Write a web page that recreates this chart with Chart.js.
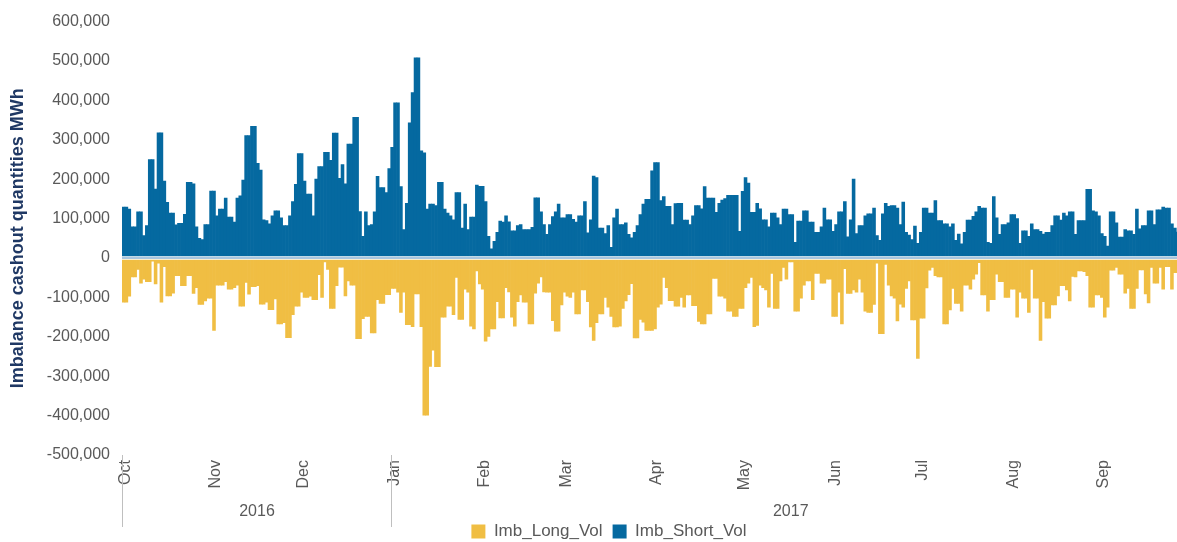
<!DOCTYPE html>
<html>
<head>
<meta charset="utf-8">
<title>Imbalance cashout quantities</title>
<script src="https://cdn.jsdelivr.net/npm/chart.js@4.4.1/dist/chart.umd.min.js"></script>
<style>
    html, body { margin: 0; padding: 0; background: #ffffff; overflow: hidden; }
    #wrap { width: 1218px; height: 550px; }
</style>
</head>
<body>
<div id="wrap"><canvas id="imbalanceChart" width="1218" height="550"></canvas></div>
<script>
// Meses del eje X (oct 2016 - sep 2017) y días de cada mes
const months = ['Oct', 'Nov', 'Dec', 'Jan', 'Feb', 'Mar', 'Apr', 'May', 'Jun', 'Jul', 'Aug', 'Sep'];
const monthDays = [31, 30, 31, 31, 28, 31, 30, 31, 30, 31, 31, 30];
// Años del segundo nivel del eje y el mes en el que empieza cada uno
const years = ['2016', '2017'];
const yearFirstMonth = [0, 3];

// Imb_Long_Vol en miles de MWh, un mes por línea
const longVol = [
    -112, -112, -97, -48, -48, -29, -64, -54, -60, -60, -8, -66, -13, -112, -22, -96, -96, -89, -45, -45, -70, -70, -45, -45, -90, -75, -118, -118, -109, -102, -102,
    -184, -69, -69, -69, -60, -79, -79, -75, -69, -122, -122, -62, -92, -73, -73, -70, -117, -117, -112, -131, -131, -104, -167, -167, -164, -202, -202, -144, -122, -122,
    -87, -100, -100, -97, -106, -106, -42, -100, -10, -29, -128, -128, -70, -23, -23, -96, -58, -69, -69, -205, -205, -154, -148, -148, -190, -190, -106, -115, -115, -93, -93,
    -77, -77, -87, -138, -87, -169, -169, -174, -91, -91, -174, -399, -399, -275, -234, -276, -276, -150, -150, -122, -122, -144, -49, -156, -156, -79, -87, -173, -180, -33, -66,
    -79, -211, -199, -180, -180, -111, -152, -152, -75, -86, -150, -173, -111, -94, -112, -112, -167, -167, -89, -64, -48, -86, -87, -87, -159, -186, -186, -119,
    -87, -97, -100, -87, -142, -142, -81, -81, -111, -175, -209, -164, -142, -142, -100, -125, -148, -175, -175, -173, -128, -109, -93, -65, -203, -203, -156, -163, -184, -184, -184,
    -180, -125, -117, -49, -75, -108, -108, -122, -122, -100, -125, -94, -94, -121, -121, -161, -167, -167, -142, -142, -52, -52, -97, -97, -102, -135, -135, -148, -148, -128,
    -128, -75, -64, -49, -174, -171, -69, -75, -81, -125, -39, -128, -128, -58, -24, -54, -10, -10, -135, -135, -102, -69, -58, -58, -106, -39, -39, -64, -64, -54, -54,
    -148, -148, -87, -167, -27, -90, -90, -81, -87, -54, -87, -135, -138, -138, -118, -13, -192, -192, -16, -69, -96, -102, -160, -117, -125, -77, -58, -157, -157, -255,
    -153, -153, -76, -31, -24, -45, -48, -48, -167, -167, -132, -77, -115, -115, -135, -69, -69, -79, -54, -41, -12, -94, -94, -135, -106, -106, -41, -60, -60, -100, -100,
    -79, -79, -150, -87, -102, -102, -138, -29, -102, -102, -209, -111, -153, -153, -119, -119, -96, -70, -70, -81, -109, -47, -48, -33, -33, -35, -45, -125, -125, -94, -94,
    -100, -150, -125, -31, -31, -24, -41, -41, -89, -77, -128, -128, -77, -30, -30, -91, -114, -24, -64, -64, -24, -79, -22, -22, -79, -37, -37, -54, -70, -70
];

// Imb_Short_Vol en miles de MWh, un mes por línea
const shortVol = [
    129, 129, 124, 79, 79, 117, 117, 57, 82, 250, 250, 175, 318, 318, 195, 141, 114, 114, 84, 88, 88, 111, 192, 192, 188, 79, 50, 47, 85, 85, 170,
    170, 107, 124, 124, 152, 104, 104, 91, 152, 158, 198, 311, 311, 334, 334, 240, 223, 97, 95, 87, 107, 120, 120, 102, 82, 82, 107, 143, 187, 265,
    265, 195, 162, 162, 107, 200, 232, 232, 268, 268, 248, 317, 317, 202, 237, 188, 289, 289, 357, 357, 118, 55, 117, 82, 85, 117, 207, 179, 179, 166, 227,
    281, 394, 394, 181, 72, 139, 343, 420, 508, 508, 272, 267, 124, 137, 137, 133, 192, 192, 124, 114, 107, 97, 166, 166, 76, 137, 72, 104, 104, 185, 182,
    182, 143, 55, 23, 42, 65, 94, 91, 107, 92, 69, 69, 82, 85, 72, 72, 72, 78, 153, 153, 117, 85, 60, 85, 105, 117, 137, 102,
    102, 110, 110, 98, 91, 107, 107, 143, 64, 97, 208, 204, 76, 76, 62, 82, 27, 102, 124, 85, 85, 89, 60, 51, 65, 82, 110, 137, 149, 149, 221,
    242, 242, 146, 156, 131, 131, 85, 138, 139, 139, 96, 96, 85, 107, 133, 133, 125, 181, 152, 152, 152, 116, 139, 147, 151, 159, 159, 159, 159, 68,
    169, 204, 190, 116, 116, 139, 125, 97, 97, 79, 114, 114, 102, 85, 124, 124, 110, 110, 40, 94, 94, 120, 120, 91, 91, 65, 65, 79, 127, 97, 97,
    68, 85, 117, 117, 143, 54, 97, 200, 62, 82, 82, 107, 112, 112, 127, 57, 45, 112, 139, 131, 133, 133, 127, 85, 142, 65, 58, 47, 81, 37,
    65, 127, 127, 114, 114, 146, 95, 95, 87, 87, 79, 87, 45, 61, 36, 65, 96, 96, 106, 117, 131, 127, 127, 40, 37, 156, 102, 60, 85, 85, 89,
    110, 110, 100, 37, 69, 69, 55, 87, 72, 72, 68, 61, 65, 65, 82, 107, 107, 96, 114, 107, 117, 117, 60, 95, 95, 95, 174, 174, 120, 117, 107,
    62, 55, 30, 117, 117, 89, 53, 53, 72, 69, 69, 60, 124, 74, 82, 82, 120, 120, 85, 122, 122, 129, 127, 127, 87, 76, 66, 72, 70, 68
];

const fontFamily = "'Liberation Sans', Arial, sans-serif";
const textColor = '#595959';

// Una etiqueta por día ("Oct 1", "Oct 2", ...)
const dayLabels = [];
months.forEach(function(m, i) {
    for (let d = 1; d <= monthDays[i]; d++) {
        dayLabels.push(m + ' ' + d);
    }
});

// Dibuja la línea del cero y el segundo nivel del eje (años)
const yearAxisPlugin = {
    id: 'yearAxis',
    afterLayout(chart) {
        // La leyenda va centrada en el área completa, no solo hasta el borde del gráfico
        if (chart.legend) {
            chart.legend.left += 15;
            chart.legend.right += 15;
        }
    },
    afterDatasetsDraw(chart) {
        const ctx = chart.ctx;
        const area = chart.chartArea;
        const y0 = Math.round(chart.scales.y.getPixelForValue(0));
        ctx.save();
        ctx.strokeStyle = '#ffffff';
        ctx.lineWidth = 3.5;
        ctx.beginPath();
        ctx.moveTo(area.left, y0);
        ctx.lineTo(area.right, y0);
        ctx.stroke();
        ctx.strokeStyle = '#8DB3D5';
        ctx.lineWidth = 1.5;
        ctx.beginPath();
        ctx.moveTo(area.left, y0);
        ctx.lineTo(area.right, y0);
        ctx.stroke();
        ctx.restore();
    },
    afterDraw(chart) {
        const ctx = chart.ctx;
        const area = chart.chartArea;
        const x = chart.scales.x;
        const half = (x.getPixelForValue(1) - x.getPixelForValue(0)) / 2;

        // Píxel donde empieza cada año
        const starts = yearFirstMonth.map(function(mi) {
            let day = 0;
            for (let k = 0; k < mi; k++) day += monthDays[k];
            return Math.round(x.getPixelForValue(day) - half) + 0.5;
        });

        ctx.save();
        ctx.strokeStyle = '#BFBFBF';
        ctx.lineWidth = 1;
        ctx.fillStyle = textColor;
        ctx.font = '16px ' + fontFamily;
        ctx.textAlign = 'center';
        ctx.textBaseline = 'middle';
        starts.forEach(function(sx, i) {
            ctx.beginPath();
            ctx.moveTo(sx, area.bottom);
            ctx.lineTo(sx, area.bottom + 72);
            ctx.stroke();
            const ex = i + 1 < starts.length ? starts[i + 1] : area.right + 2;
            ctx.fillText(years[i], (sx + ex) / 2, area.bottom + 57);
        });
        ctx.restore();
    }
};

const config = {
    type: 'bar',
    data: {
        labels: dayLabels,
        datasets: [{
            label: 'Imb_Long_Vol',
            data: longVol.map(v => v * 1000),
            backgroundColor: '#F0BE43',
            borderWidth: 0,
            barPercentage: 1,
            categoryPercentage: 1,
        }, {
            label: 'Imb_Short_Vol',
            data: shortVol.map(v => v * 1000),
            backgroundColor: '#0569A0',
            borderWidth: 0,
            barPercentage: 1,
            categoryPercentage: 1,
        }],
    },
    options: {
        responsive: false,
        animation: false,
        devicePixelRatio: 1,
        layout: {
            padding: { top: 18, right: 30, bottom: 0, left: 0 },
        },
        plugins: {
            legend: {
                position: 'bottom',
                labels: {
                    boxWidth: 14,
                    boxHeight: 14,
                    padding: 10,
                    color: textColor,
                    font: { size: 17, family: fontFamily },
                },
            },
            tooltip: { enabled: false },
        },
        scales: {
            x: {
                stacked: true,
                grid: { display: false, drawTicks: false },
                border: { display: false },
                ticks: {
                    autoSkip: false,
                    minRotation: 90,
                    maxRotation: 90,
                    padding: 5,
                    labelOffset: 2,
                    color: textColor,
                    font: { size: 16, family: fontFamily },
                    // Solo el primer día de cada mes lleva etiqueta
                    callback: function(value) {
                        const lab = this.getLabelForValue(value);
                        return lab.endsWith(' 1') ? lab.split(' ')[0] : '';
                    },
                },
                afterFit: function(scale) {
                    scale.height = 58;
                },
            },
            y: {
                stacked: true,
                min: -500000,
                max: 600000,
                grid: { display: false, drawTicks: false },
                border: { display: false },
                ticks: {
                    stepSize: 100000,
                    padding: 12,
                    color: textColor,
                    font: { size: 16, family: fontFamily },
                    callback: v => v.toLocaleString('en-US'),
                },
                title: {
                    display: true,
                    text: 'Imbalance cashout quantities MWh',
                    color: '#1F3864',
                    font: { size: 18, weight: 'bold', family: fontFamily },
                    padding: { top: 7, bottom: 0 },
                },
                afterFit: function(scale) {
                    scale.width = 122;
                },
            },
        },
    },
    plugins: [yearAxisPlugin],
};

// Obtén el contexto del lienzo y crea el gráfico
const ctx = document.getElementById('imbalanceChart').getContext('2d');
new Chart(ctx, config);
</script>
</body>
</html>
